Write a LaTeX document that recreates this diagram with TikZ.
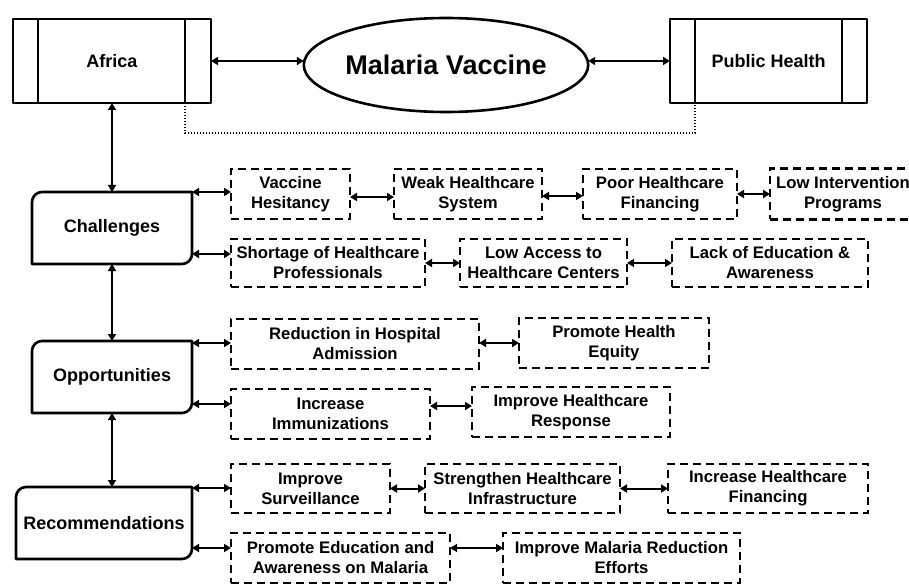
\documentclass[tikz,border=0pt]{standalone}
\usepackage{fontspec}
\setmainfont{Liberation Sans}
\usetikzlibrary{arrows.meta,shapes.geometric,calc}
\tikzset{
  mainline/.style={line width=2.6pt, line join=round},
  mainbox/.style={rectangle, outer sep=0pt, inner sep=0pt, align=center,
    font=\fontsize{18}{21}\selectfont\bfseries},
  sidebox/.style={mainbox, draw, mainline, minimum width=198pt, minimum height=84pt},
  dbox/.style={rectangle, draw, line width=2.2pt, dash pattern=on 8pt off 5pt,
    outer sep=0pt, inner sep=0pt, align=center,
    font=\fontsize{16.7}{20}\selectfont\bfseries},
  dar/.style={line width=2pt, {Triangle[length=7pt,width=8pt]}-{Triangle[length=7pt,width=8pt]}},
  dotline/.style={line width=1.8pt, dash pattern=on 1.4pt off 1.6pt},
}
\newcommand{\cornerbox}[1]{%
  \draw[mainline] (#1.south west) -- ([yshift=-10pt]#1.north west)
    arc[start angle=180,end angle=90,radius=10pt] -- (#1.north east)
    -- ([yshift=10pt]#1.south east) arc[start angle=0,end angle=-90,radius=10pt] -- cycle;}
\begin{document}
\begin{tikzpicture}[x=1pt,y=-1pt]
\useasboundingbox (0,0) rectangle (909,585);
\clip (0,0) rectangle (909,585);
% top row
\node[sidebox] (af) at (112,61) {Africa};
\node[sidebox, minimum width=197pt] (ph) at (768.5,61) {Public Health};
\node[ellipse, draw, mainline, minimum width=282pt, minimum height=94pt, inner sep=0pt, outer sep=0pt,
  font=\fontsize{27}{30}\selectfont\bfseries] (mv) at (446,65) {Malaria Vaccine};
\draw[mainline] ([xshift=25pt]af.north west) -- ([xshift=25pt]af.south west);
\draw[mainline] ([xshift=-26pt]af.north east) -- ([xshift=-26pt]af.south east);
\draw[mainline] ([xshift=25pt]ph.north west) -- ([xshift=25pt]ph.south west);
\draw[mainline] ([xshift=-25pt]ph.north east) -- ([xshift=-25pt]ph.south east);
\draw[dar] (af.east) -- (af.east -| mv.west);
\draw[dar] (af.east -| mv.east) -- (af.east -| ph.west);
\draw[dotline] ([xshift=-26pt]af.south east) -- ++(0,30) -| ([xshift=25pt]ph.south west);

% left column
\node[mainbox, minimum width=160pt, minimum height=72pt] (ch) at (112,228) {Challenges};
\node[mainbox, minimum width=160pt, minimum height=72pt] (op) at (112,377) {Opportunities};
\node[mainbox, minimum width=176pt, minimum height=72pt] (rc) at (104,523) {Recommendations};
\cornerbox{ch}
\cornerbox{op}
\cornerbox{rc}
\draw[dar] (af.south) -- (ch.north);
\draw[dar] (ch.south) -- (op.north);
\draw[dar] (op.south) -- (op.south |- rc.north);

% challenges
\node[dbox, minimum width=119pt, minimum height=50pt] (vh) at (290.5,194) {Vaccine\\Hesitancy};
\node[dbox, minimum width=148pt, minimum height=50pt] (wh) at (468,194) {Weak Healthcare\\System};
\node[dbox, minimum width=154pt, minimum height=50pt] (pf) at (660,194) {Poor Healthcare\\Financing};
\node[dbox, minimum width=146pt, minimum height=51pt] (li) at (843,194) {Low Intervention\\Programs};
\node[dbox, minimum width=194pt, minimum height=48pt] (sh) at (328,263) {Shortage of Healthcare\\Professionals};
\node[dbox, minimum width=167pt, minimum height=48pt] (la) at (543.5,263) {Low Access to\\Healthcare Centers};
\node[dbox, minimum width=196pt, minimum height=48pt] (le) at (770,263) {Lack of Education \&\\Awareness};
\draw[dar] (ch.north east) -- (ch.north east -| vh.west);
\draw[dar] ([yshift=-3pt]vh.east) -- ([yshift=-3pt]vh.east -| wh.west);
\draw[dar] ([yshift=-2pt]wh.east) -- ([yshift=-2pt]wh.east -| pf.west);
\draw[dar] (pf.east) -- (pf.east -| li.west);
\draw[dar] ([yshift=10pt]ch.south east) -- ([yshift=10pt]ch.south east -| sh.west);
\draw[dar] (sh.east) -- (la.west);
\draw[dar] (la.east) -- (le.west);

% opportunities
\node[dbox, minimum width=248pt, minimum height=50pt] (rh) at (355,344) {Reduction in Hospital\\Admission};
\node[dbox, minimum width=190pt, minimum height=50pt] (pe) at (614,343) {Promote Health\\Equity};
\node[dbox, minimum width=199pt, minimum height=50pt] (im) at (330.5,414) {Increase\\Immunizations};
\node[dbox, minimum width=198pt, minimum height=50pt] (ir) at (571,412) {Improve Healthcare\\Response};
\draw[dar] ([yshift=-2pt]op.north east) -- ([yshift=-2pt]op.north east -| rh.west);
\draw[dar] ([yshift=1pt]rh.east) -- ([yshift=1pt]rh.east -| pe.west);
\draw[dar] ([yshift=9pt]op.south east) -- ([yshift=9pt]op.south east -| im.west);
\draw[dar] ([yshift=8pt]im.east) -- ([yshift=8pt]im.east -| ir.west);

% recommendations
\node[dbox, minimum width=159pt, minimum height=49pt] (is) at (310.5,488.5) {Improve\\Surveillance};
\node[dbox, minimum width=195pt, minimum height=49pt] (sx) at (522.5,488.5) {Strengthen Healthcare\\Infrastructure};
\node[dbox, minimum width=200pt, minimum height=49pt] (hf) at (768,488.5) {Increase Healthcare\\Financing};
\node[dbox, minimum width=219pt, minimum height=50pt] (pm) at (340.5,558) {Promote Education and\\Awareness on Malaria};
\node[dbox, minimum width=237pt, minimum height=50pt] (ie) at (621.5,558) {Improve Malaria Reduction\\Efforts};
\draw[dar] ([yshift=-1pt]rc.north east) -- ([yshift=-1pt]rc.north east -| is.west);
\draw[dar] (is.east) -- (sx.west);
\draw[dar] (sx.east) -- (hf.west);
\draw[dar] ([yshift=11pt]rc.south east) -- ([yshift=11pt]rc.south east -| pm.west);
\draw[dar] ([yshift=10pt]pm.east) -- ([yshift=10pt]pm.east -| ie.west);
\end{tikzpicture}
\end{document}
